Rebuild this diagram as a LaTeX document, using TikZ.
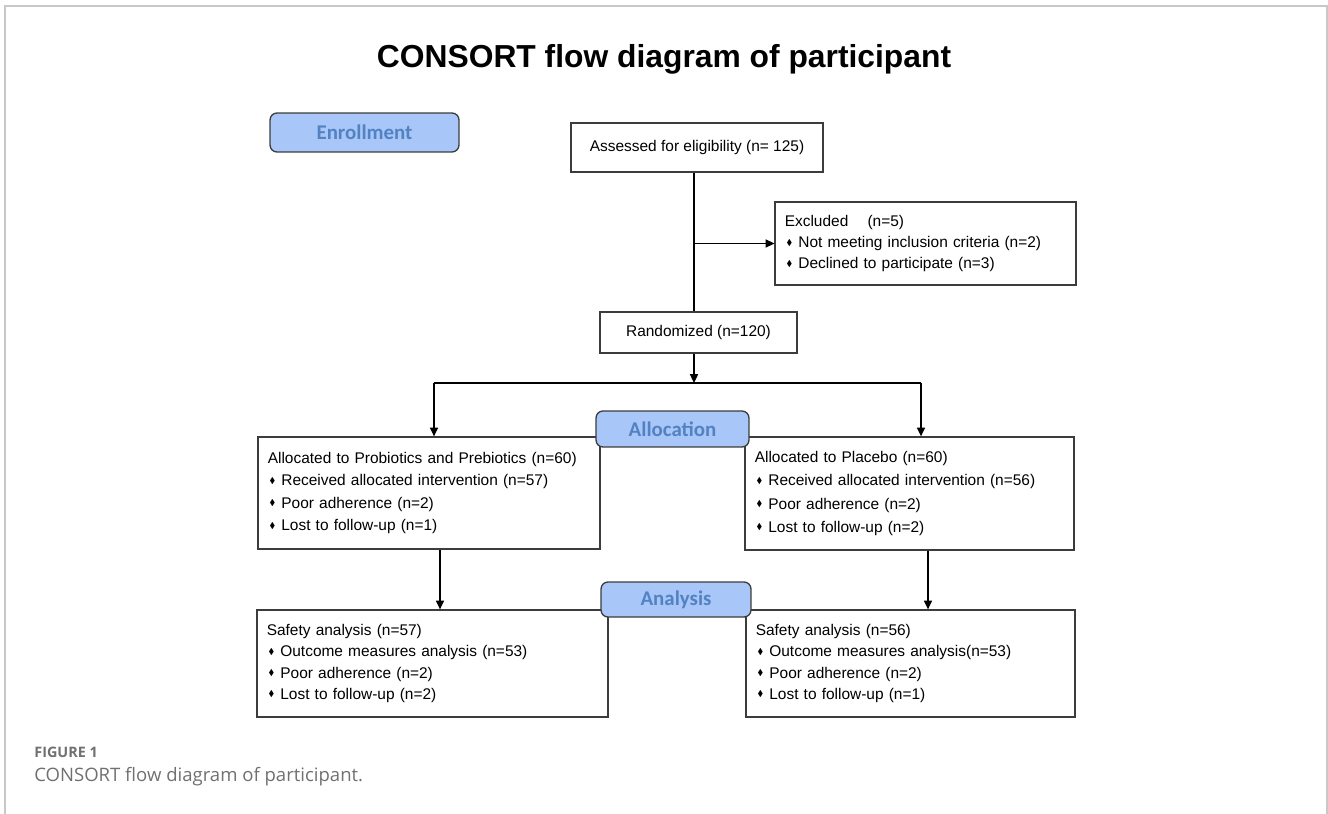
\documentclass[tikz,border=0pt]{standalone}
\usepackage{fontspec}
\usepackage{amssymb}
\usepackage{graphicx}
\setmainfont{Liberation Sans}
\newfontfamily\tagfont{Carlito}
\newfontfamily\capfont{Open Sans}
\usetikzlibrary{arrows.meta}

\definecolor{tagfill}{RGB}{168,198,248}
\definecolor{tagtext}{RGB}{82,130,194}
\definecolor{boxline}{RGB}{60,60,60}
\definecolor{framegray}{RGB}{200,200,200}
\definecolor{capgray}{RGB}{112,112,112}

\newcommand{\bul}{\hspace{1pt}\raisebox{0.3ex}{\scalebox{0.55}{$\blacklozenge$}}\hspace{3.5pt}}

\tikzset{
	flowbox/.style={draw=boxline, line width=0.75pt, fill=white, inner xsep=5.5pt, font=\fontsize{8.8}{12}\selectfont},
	listbox/.style={flowbox, align=left},
	tagbox/.style={draw=boxline, line width=0.75pt, fill=tagfill, rounded corners=4pt, text=tagtext, font=\tagfont\bfseries\fontsize{11.9}{14}\selectfont},
	arr/.style={-{Triangle[length=5pt,width=4.6pt]}, line width=0.75pt}
}

\begin{document}
\begin{tikzpicture}[x=0.02cm, y=-0.02cm]
		\useasboundingbox (0,0) rectangle (1328,814);
		% figure frame, open at the bottom
		\draw [framegray, line width=0.6pt] (5,814) -- (5,6) -- (1327,6) -- (1327,814);

		\node (title) [anchor=base, font=\bfseries\fontsize{18.1}{22}\selectfont] at (664,68) {CONSORT flow diagram of participant};

		% enrollment
		\node (assess) [flowbox, minimum width=5.04cm, minimum height=0.98cm] at (697,147.5) {Assessed for eligibility (n= 125)};
		\node (excl) [listbox, text width=5.63cm, minimum height=1.66cm] at (925.5,243.5)
			{Excluded\hspace{8pt} (n=5)\\ \bul Not meeting inclusion criteria (n=2)\\ \bul Declined to participate (n=3)};
		\node (rand) [flowbox, minimum width=3.94cm, minimum height=0.82cm] at (698.5,332.5) {Randomized (n=120)};

		% allocation
		\node (allocL) [listbox, text width=6.45cm, minimum height=2.24cm, font=\fontsize{8.8}{12.9}\selectfont] at (429,493)
			{Allocated to Probiotics and Prebiotics (n=60)\\ \bul Received allocated intervention (n=57)\\ \bul Poor adherence (n=2)\\ \bul Lost to follow-up (n=1)};
		\node (allocR) [listbox, text width=6.19cm, minimum height=2.26cm, font=\fontsize{8.8}{13.2}\selectfont] at (909.5,493.5)
			{Allocated to Placebo (n=60)\\ \bul Received allocated intervention (n=56)\\ \bul Poor adherence (n=2)\\ \bul Lost to follow-up (n=2)};

		% analysis
		\node (anaL) [listbox, text width=6.63cm, minimum height=2.14cm] at (432.5,663.5)
			{Safety analysis (n=57)\\ \bul Outcome measures analysis (n=53)\\ \bul Poor adherence (n=2)\\ \bul Lost to follow-up (n=2)};
		\node (anaR) [listbox, text width=6.19cm, minimum height=2.14cm] at (910.5,663.5)
			{Safety analysis (n=56)\\ \bul Outcome measures analysis(n=53)\\ \bul Poor adherence (n=2)\\ \bul Lost to follow-up (n=1)};

		% stage labels
		\node (enroll) [tagbox, minimum width=3.78cm, minimum height=0.78cm] at (364.5,132.5) {Enrollment};
		\node (allocTag) [tagbox, minimum width=3.06cm, minimum height=0.72cm] at (672.5,429) {Allocation};
		\node (anaTag) [tagbox, minimum width=3.0cm, minimum height=0.7cm] at (676,599.5) {Analysis};

		% connectors
		\coordinate (spine) at (694,0);
		\coordinate (splitL) at (434,383);
		\coordinate (splitR) at (921,383);
		\draw [line width=0.75pt] (assess.south -| spine) -- (rand.north -| spine);
		\draw [arr] (spine |- excl.west) -- (excl.west);
		\draw [arr] (rand.south -| spine) -- (spine |- splitL);
		\draw [line width=0.75pt] (splitL) -- (splitR);
		\draw [arr] (splitL) -- (splitL |- allocL.north);
		\draw [arr] (splitR) -- (splitR |- allocR.north);
		\draw [arr] ([xshift=0.22cm]allocL.south) -- ([xshift=0.22cm]allocL.south |- anaL.north);
		\draw [arr] ([xshift=0.37cm]allocR.south) -- ([xshift=0.37cm]allocR.south |- anaR.north);

		% caption
		\node (figno) [anchor=base west, inner sep=0pt, text=capgray, font=\capfont\bfseries\fontsize{8.2}{10}\selectfont] at (34,757) {FIGURE 1};
		\node (figcap) [anchor=base west, inner sep=0pt, text=capgray, font=\capfont\fontsize{10.55}{12}\selectfont] at (34,781) {CONSORT flow diagram of participant.};
	\end{tikzpicture}
\end{document}
